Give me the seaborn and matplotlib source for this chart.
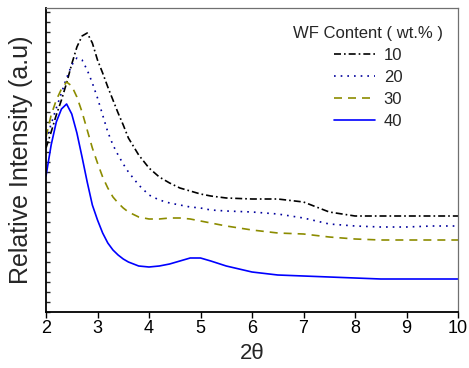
import numpy as np
import pandas as pd
import matplotlib
matplotlib.use("Agg")
import matplotlib.pyplot as plt
import seaborn as sns
from matplotlib.ticker import MultipleLocator, NullFormatter

# 2-theta positions
two_theta = [2.0, 2.1, 2.2, 2.3, 2.4, 2.5, 2.6, 2.7, 2.8, 2.9, 3.0, 3.1, 3.2, 3.3, 3.4,
             3.5, 3.6, 3.8, 4.0, 4.2, 4.4, 4.6, 4.8, 5.0, 5.2, 5.5, 6.0, 6.5, 7.0, 7.5,
             8.0, 8.5, 9.0, 9.5, 10.0]

# relative intensity (arbitrary units) for each WF content
wf10 = [164, 180, 197, 212, 229, 248, 265, 276, 279, 269, 252, 239, 225, 212, 199,
        187, 174, 157, 144, 135, 129, 124, 121, 118, 116, 114, 113, 113, 110, 100,
        96, 96, 96, 96, 96]
wf20 = [172, 188, 204, 219, 234, 247, 254, 252, 242, 229, 214, 197, 180, 167, 157,
        148, 140, 127, 117, 112, 109, 107, 105, 104, 102, 101, 100, 98, 94, 88,
        86, 85, 85, 86, 86]
wf30 = [175, 197, 212, 223, 230, 226, 215, 200, 182, 164, 149, 135, 124, 115, 109,
        104, 100, 95, 93, 93, 94, 94, 93, 91, 89, 86, 82, 79, 78, 75,
        73, 72, 72, 72, 72]
wf40 = [136, 167, 190, 203, 208, 198, 179, 155, 130, 107, 92, 79, 69, 62, 57,
        53, 50, 46, 45, 46, 48, 51, 54, 54, 51, 46, 40, 37, 36, 35,
        34, 33, 33, 33, 33]

labels = ["10", "20", "30", "40"]
colors = ["black", "#00009c", "#8c8c00", "#0000ff"]
dash_styles = [(4.2, 1.8, 1, 1.8), (1, 3), (4.8, 3.6), ""]

df = pd.DataFrame({"two_theta": two_theta * 4,
                   "intensity": wf10 + wf20 + wf30 + wf40,
                   "wf": sum([[lab] * len(two_theta) for lab in labels], [])})

sns.set_style("ticks")
plt.rcParams["font.family"] = ["Liberation Sans", "DejaVu Sans"]

fig = plt.figure(figsize=(4.69, 3.68), dpi=100)
ax = fig.add_axes([46 / 469, 56 / 368, 412 / 469, 304 / 368])

sns.lineplot(data=df, x="two_theta", y="intensity", hue="wf", style="wf",
             palette=dict(zip(labels, colors)), dashes=dict(zip(labels, dash_styles)),
             linewidth=1.2, ax=ax)

ax.set_xlim(2, 10)
ax.set_ylim(0, 304)
ax.xaxis.set_major_locator(MultipleLocator(1))
ax.yaxis.set_major_locator(MultipleLocator(10))
ax.yaxis.set_major_formatter(NullFormatter())
ax.tick_params(axis="x", direction="out", length=4, width=1, labelsize=13, pad=2, colors="black")
ax.tick_params(axis="y", direction="in", length=3, width=1)

for side in ["left", "bottom"]:
    ax.spines[side].set_linewidth(1.3)
    ax.spines[side].set_color("black")
for side in ["top", "right"]:
    ax.spines[side].set_visible(True)
    ax.spines[side].set_linewidth(0.9)
    ax.spines[side].set_color("#707070")

ax.set_xlabel("2θ", fontsize=16, labelpad=4)
ax.set_ylabel("Relative Intensity (a.u)", fontsize=18)
ax.yaxis.set_label_coords(-0.032, 0.5)

leg = ax.legend(title="WF Content ( wt.% )", frameon=False, fontsize=12, title_fontsize=12,
                loc="upper right", bbox_to_anchor=(1.0, 0.99), handlelength=2.5,
                labelspacing=0.42, handletextpad=0.5)

fig.savefig("out.png", dpi=100)
